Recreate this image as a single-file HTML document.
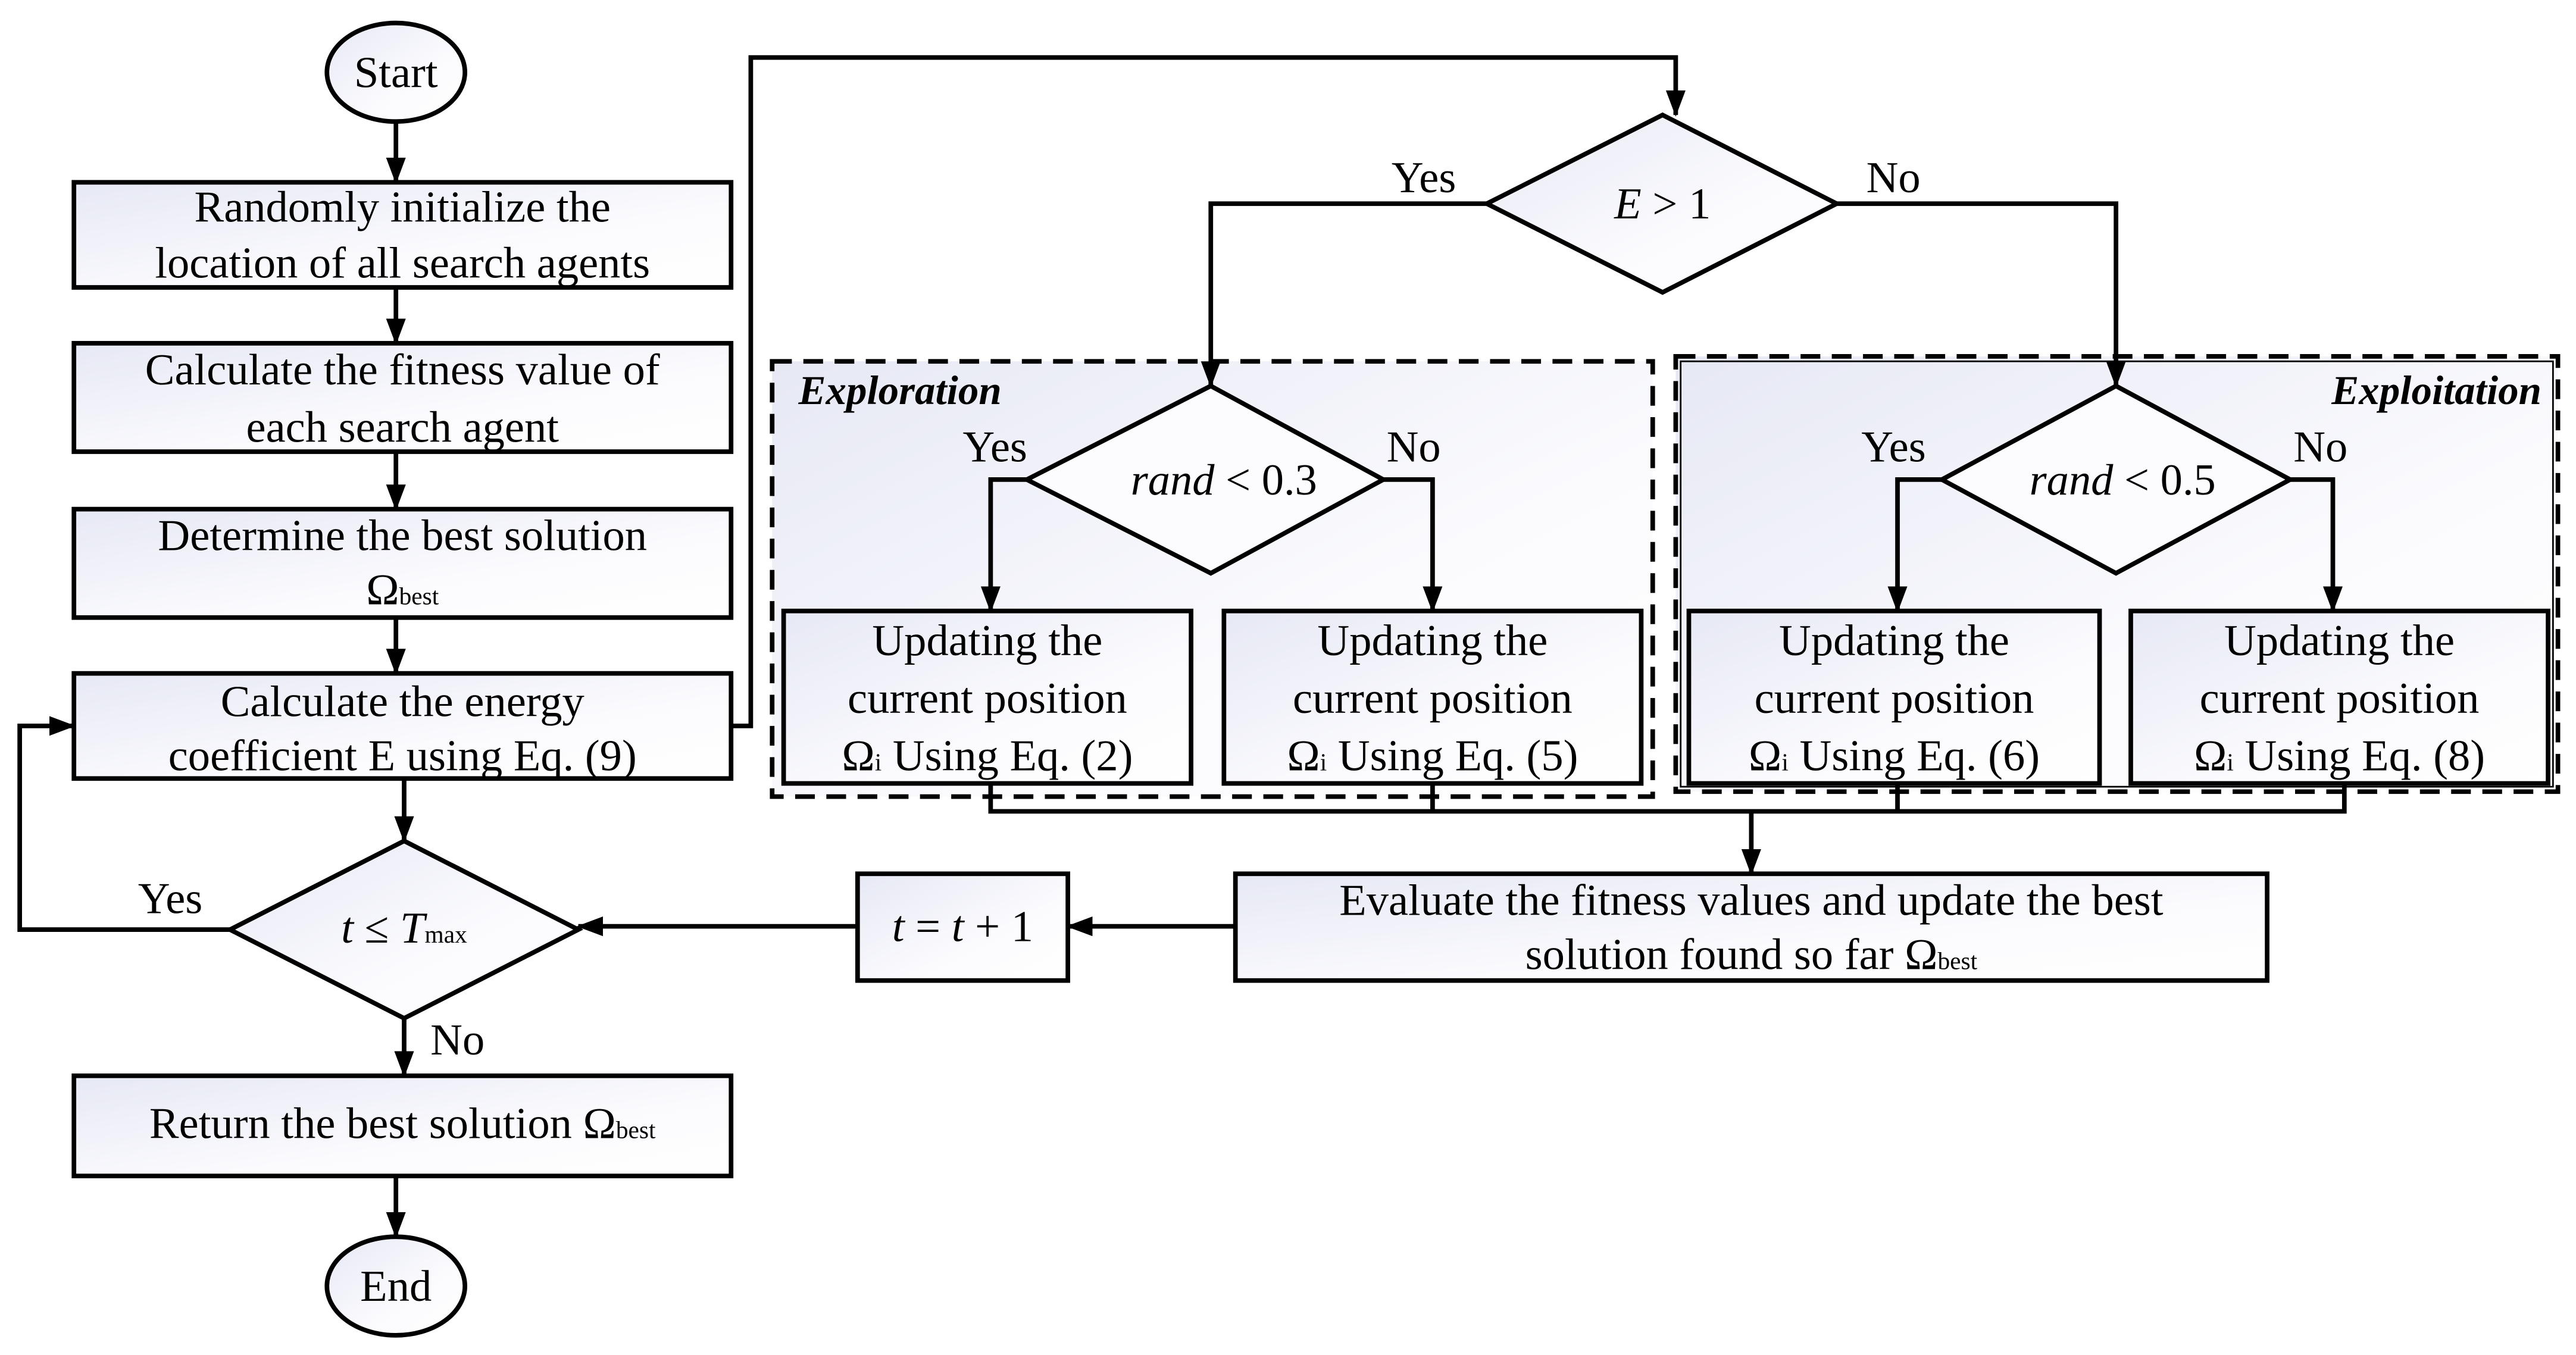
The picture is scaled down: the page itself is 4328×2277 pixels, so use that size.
<!DOCTYPE html>
<html><head><meta charset="utf-8"><style>
html,body{margin:0;padding:0;background:#fff;}
svg{display:block;}
text{font-family:"Liberation Serif",serif;fill:#000;}
</style></head><body>
<svg width="4328" height="2277" viewBox="0 0 1568 825" preserveAspectRatio="none" xmlns="http://www.w3.org/2000/svg">
<defs>
<linearGradient id="g" x1="0" y1="0" x2="1" y2="1">
<stop offset="0" stop-color="#e6e8f4"/><stop offset="0.6" stop-color="#fbfbfe"/><stop offset="1" stop-color="#ffffff"/>
</linearGradient>
<marker id="a" markerWidth="16" markerHeight="12" refX="15" refY="6" orient="auto" markerUnits="userSpaceOnUse" viewBox="0 0 16 12">
<path d="M0,0 L16,6 L0,12 z" fill="#000"/>
</marker>
</defs>
<g stroke="#000" stroke-width="2.8" fill="none">
<rect x="470" y="220" width="536" height="265" fill="url(#g)" stroke-dasharray="12,7"/>
<rect x="1020" y="217" width="537" height="265" fill="url(#g)" stroke-dasharray="12,7"/>
<rect x="1023" y="220" width="531" height="259" fill="none" stroke-width="1"/>
</g>
<g stroke="#000" stroke-width="2.8">
<ellipse cx="241" cy="44" rx="42" ry="30" fill="url(#g)"/>
<rect x="45" y="111" width="400" height="64" fill="url(#g)"/>
<rect x="45" y="209" width="400" height="66" fill="url(#g)"/>
<rect x="45" y="310" width="400" height="66" fill="url(#g)"/>
<rect x="45" y="410" width="400" height="64" fill="url(#g)"/>
<polygon points="140,566 246,512 352,566 246,620" fill="url(#g)"/>
<rect x="45" y="655" width="400" height="61" fill="url(#g)"/>
<ellipse cx="241" cy="783" rx="42" ry="30" fill="url(#g)"/>
<polygon points="905,124 1012,70 1118,124 1012,178" fill="url(#g)"/>
<polygon points="625,292 737,235 842,292 737,349" fill="#fcfcfe"/>
<polygon points="1182,292 1288,235 1394,292 1288,349" fill="#fcfcfe"/>
<rect x="477" y="372" width="248" height="105" fill="url(#g)"/>
<rect x="745" y="372" width="254" height="105" fill="url(#g)"/>
<rect x="1028" y="372" width="250" height="105" fill="url(#g)"/>
<rect x="1297" y="372" width="254" height="105" fill="url(#g)"/>
<rect x="752" y="532" width="628" height="65" fill="url(#g)"/>
<rect x="522" y="532" width="128" height="65" fill="url(#g)"/>
</g>
<g stroke="#000" stroke-width="2.8" fill="none" marker-end="url(#a)">
<line x1="241" y1="74" x2="241" y2="111"/>
<line x1="241" y1="175" x2="241" y2="209"/>
<line x1="241" y1="275" x2="241" y2="310"/>
<line x1="241" y1="376" x2="241" y2="410"/>
<line x1="246" y1="474" x2="246" y2="512"/>
<line x1="246" y1="620" x2="246" y2="655"/>
<line x1="241" y1="716" x2="241" y2="753"/>
<polyline points="140,566 12,566 12,442 45,442"/>
<polyline points="445,442 457,442 457,35 1020,35 1020,70"/>
<polyline points="905,124 737,124 737,235"/>
<polyline points="1118,124 1288,124 1288,235"/>
<polyline points="625,292 603,292 603,372"/>
<polyline points="842,292 872,292 872,372"/>
<polyline points="1182,292 1155,292 1155,372"/>
<polyline points="1394,292 1420,292 1420,372"/>
<line x1="1066" y1="494" x2="1066" y2="532"/>
<line x1="752" y1="564" x2="650" y2="564"/>
<line x1="522" y1="564" x2="352" y2="564"/>
</g>
<g stroke="#000" stroke-width="2.8" fill="none">
<polyline points="603,477 603,494 1427,494 1427,477"/>
<line x1="872" y1="477" x2="872" y2="494"/>
<line x1="1155" y1="477" x2="1155" y2="494"/>
</g>
<g font-size="27" text-anchor="middle">
<text x="241" y="53">Start</text>
<text x="245" y="135">Randomly initialize the</text>
<text x="245" y="169">location of all search agents</text>
<text x="245" y="234">Calculate the fitness value of</text>
<text x="245" y="269">each search agent</text>
<text x="245" y="335">Determine the best solution</text>
<text x="245" y="368">Ω<tspan font-size="15">best</tspan></text>
<text x="245" y="436">Calculate the energy</text>
<text x="245" y="469">coefficient E using Eq. (9)</text>
<text x="246" y="574"><tspan font-style="italic">t</tspan> ≤ <tspan font-style="italic">T</tspan><tspan font-size="15">max</tspan></text>
<text x="245" y="693">Return the best solution Ω<tspan font-size="15">best</tspan></text>
<text x="241" y="792">End</text>
<text x="1012" y="133"><tspan font-style="italic">E</tspan> &gt; 1</text>
<text x="745" y="301"><tspan font-style="italic">rand</tspan> &lt; 0.3</text>
<text x="1292" y="301"><tspan font-style="italic">rand</tspan> &lt; 0.5</text>
<text x="601" y="399">Updating the</text>
<text x="601" y="434">current position</text>
<text x="601" y="469">Ω<tspan font-size="15">i</tspan> Using Eq. (2)</text>
<text x="872" y="399">Updating the</text>
<text x="872" y="434">current position</text>
<text x="872" y="469">Ω<tspan font-size="15">i</tspan> Using Eq. (5)</text>
<text x="1153" y="399">Updating the</text>
<text x="1153" y="434">current position</text>
<text x="1153" y="469">Ω<tspan font-size="15">i</tspan> Using Eq. (6)</text>
<text x="1424" y="399">Updating the</text>
<text x="1424" y="434">current position</text>
<text x="1424" y="469">Ω<tspan font-size="15">i</tspan> Using Eq. (8)</text>
<text x="1066" y="557">Evaluate the fitness values and update the best</text>
<text x="1066" y="590">solution found so far Ω<tspan font-size="15">best</tspan></text>
<text x="586" y="573"><tspan font-style="italic">t</tspan> = <tspan font-style="italic">t</tspan> + 1</text>
</g>
<g font-size="27">
<text x="847" y="117">Yes</text>
<text x="1136" y="117">No</text>
<text x="586" y="281">Yes</text>
<text x="844" y="281">No</text>
<text x="1133" y="281">Yes</text>
<text x="1396" y="281">No</text>
<text x="84" y="556">Yes</text>
<text x="262" y="642">No</text>
<text x="486" y="246" font-style="italic" font-weight="bold" font-size="25">Exploration</text>
<text x="1547" y="246" font-style="italic" font-weight="bold" font-size="25" text-anchor="end">Exploitation</text>
</g>
</svg>
</body></html>
